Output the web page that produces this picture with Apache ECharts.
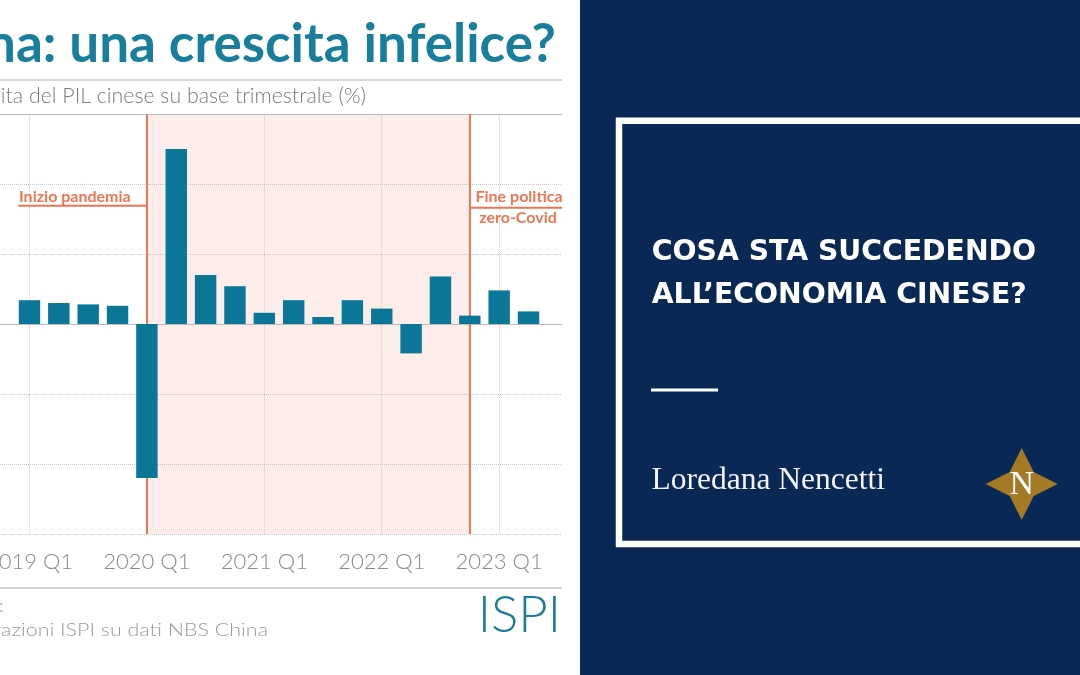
<!DOCTYPE html>
<html><head><meta charset="utf-8">
<script src="https://cdn.jsdelivr.net/npm/echarts@6/dist/echarts.min.js"></script>
<style>html,body{margin:0;padding:0;background:#fff}#c{width:1080px;height:675px}</style>
</head><body><div id="c"></div><script>
// ---- data ----
const categories = ['2019 Q1','2019 Q2','2019 Q3','2019 Q4','2020 Q1','2020 Q2','2020 Q3','2020 Q4',
  '2021 Q1','2021 Q2','2021 Q3','2021 Q4','2022 Q1','2022 Q2','2022 Q3','2022 Q4','2023 Q1','2023 Q2'];
const gdpGrowth = [1.7,1.5,1.4,1.3,-11.0,12.5,3.5,2.7,0.8,1.7,0.5,1.7,1.1,-2.1,3.4,0.6,2.4,0.9];
const yMin = -15, yMax = 15, yStep = 5;
const yearTicks = ['2019 Q1','2020 Q1','2021 Q1','2022 Q1','2023 Q1'];
const covidStart = '2020 Q1', covidEnd = '2022 Q4';
const annotStart = { cat: '2020 Q1', value: 8.45, text: 'Inizio pandemia' };
const annotEnd = { cat: '2022 Q4', value: 8.3, lines: ['Fine politica', 'zero-Covid'] };

const TEAL = '#0a7698', ORANGE = '#ef7550', NAVY = '#0a2855';
const chart = echarts.init(document.getElementById('c'), null, { renderer: 'canvas' });

function txt(text, x, y, font, fill, align, sx) {
  return { type: 'text', silent: true, z: 20, x: x, y: y, scaleX: sx || 1, style: {
    text, x: 0, y: 0, font, fill, align, textAlign: align, verticalAlign: 'middle', textVerticalAlign: 'middle' } };
}

const noLabel = { show: false };
chart.setOption({
  animation: false,
  grid: [
    { left: 0, right: 518, top: 114, bottom: 141, containLabel: false, outerBoundsMode: 'none' },
    { left: 14.8, right: 536.8, top: 114, bottom: 141, containLabel: false, outerBoundsMode: 'none' }
  ],
  xAxis: [
    { gridIndex: 0, type: 'value', show: false, min: 0, max: 1 },
    { gridIndex: 1, type: 'category', data: categories,
      axisLine: { show: false }, axisTick: { show: false }, splitLine: { show: false },
      axisLabel: { interval: 3, margin: 17, color: '#8a8a8a', fontFamily: 'Lato', fontWeight: 300, fontSize: 22 } }
  ],
  yAxis: [
    { gridIndex: 0, type: 'value', min: yMin, max: yMax, interval: yStep,
      axisLabel: noLabel, axisLine: { show: false }, axisTick: { show: false },
      splitLine: { lineStyle: { type: 'dotted', color: '#c8c8c8', width: 1 } } },
    { gridIndex: 1, type: 'value', min: yMin, max: yMax, interval: yStep, show: false }
  ],
  series: [
    { type: 'line', xAxisIndex: 0, yAxisIndex: 0, data: [],
      markLine: { z: 1.3, silent: true, symbol: 'none', label: noLabel,
        lineStyle: { type: 'solid', color: '#bdbdbd', width: 1 },
        data: [{ yAxis: yMax }, { yAxis: 0 }] } },
    { type: 'line', xAxisIndex: 1, yAxisIndex: 1, data: [],
      markArea: { z: 1, silent: true, itemStyle: { color: 'rgba(235,110,90,0.13)' },
        data: [[{ xAxis: covidStart }, { xAxis: covidEnd }]] },
      markLine: { z: 1.2, silent: true, symbol: 'none', label: noLabel,
        lineStyle: { type: 'dotted', color: '#cccccc', width: 1 },
        data: yearTicks.map(c => ({ xAxis: c })) } },
    { type: 'line', xAxisIndex: 1, yAxisIndex: 1, data: [],
      markLine: { z: 1.5, silent: true, symbol: 'none', label: noLabel,
        lineStyle: { type: 'solid', color: ORANGE, width: 2 },
        data: [{ xAxis: covidStart }, { xAxis: covidEnd }] } },
    { type: 'bar', xAxisIndex: 1, yAxisIndex: 1, data: gdpGrowth, barWidth: '73%', z: 3,
      itemStyle: { color: TEAL } }
  ]
});

// annotation positions from the chart's own scales
const pS = chart.convertToPixel({ gridIndex: 1 }, [annotStart.cat, annotStart.value]);
const pE = chart.convertToPixel({ gridIndex: 1 }, [annotEnd.cat, annotEnd.value]);

// star logo
const cx = 1021.7, cy = 484, ro = 36, ri = 17;
const star = [];
for (let k = 0; k < 8; k++) {
  const a = -Math.PI / 2 + k * Math.PI / 4, r = k % 2 ? ri : ro;
  star.push([cx + r * Math.cos(a), cy + r * Math.sin(a)]);
}

chart.setOption({
  graphic: [
    { type: 'rect', silent: true, z: 10, shape: { x: 580, y: 0, width: 500, height: 675 }, style: { fill: NAVY } },
    { type: 'rect', silent: true, z: 11, shape: { x: 619, y: 120.7, width: 600, height: 423.3 },
      style: { fill: 'none', stroke: '#ffffff', lineWidth: 6.5 } },
    { type: 'line', silent: true, z: 11, shape: { x1: 0, y1: 80, x2: 562, y2: 80 }, style: { stroke: '#c9c9c9', lineWidth: 1.5 } },
    { type: 'line', silent: true, z: 11, shape: { x1: 0, y1: 588, x2: 562, y2: 588 }, style: { stroke: '#c9c9c9', lineWidth: 1.5 } },
    txt('Cina: una crescita infelice?', 556, 45, 'bold 53px Lato', '#177e9d', 'right'),
    txt('Crescita del PIL cinese su base trimestrale (%)', 366, 96, '300 21px Lato', '#7a7a7a', 'right', 1.015),
    txt('Fonte:', 4, 606.4, '300 18px Lato', '#9a9a9a', 'right', 1.2),
    txt('Elaborazioni ISPI su dati NBS China', 268, 630.1, '300 18px Lato', '#9a9a9a', 'right', 1.19),
    txt('ISPI', 561, 615.3, '300 51px Lato', '#1a7c9b', 'right'),
    // annotations
    { type: 'line', silent: true, z: 12, shape: { x1: 18.3, y1: pS[1], x2: pS[0], y2: pS[1] }, style: { stroke: ORANGE, lineWidth: 2 } },
    txt(annotStart.text, 19, pS[1] - 9.2, 'bold 16px Lato', ORANGE, 'left'),
    { type: 'line', silent: true, z: 12, shape: { x1: pE[0], y1: pE[1], x2: 562, y2: pE[1] }, style: { stroke: ORANGE, lineWidth: 2 } },
    txt(annotEnd.lines[0], 519, pE[1] - 11.2, 'bold 16px Lato', ORANGE, 'center'),
    txt(annotEnd.lines[1], 518, pE[1] + 10.1, 'bold 16px Lato', ORANGE, 'center'),
    // right panel
    txt('COSA STA SUCCEDENDO', 651.7, 252.9, 'bold 28.3px "DejaVu Sans"', '#ffffff', 'left'),
    txt('ALL\u2019ECONOMIA CINESE?', 651.7, 295.2, 'bold 28.3px "DejaVu Sans"', '#ffffff', 'left'),
    { type: 'line', silent: true, z: 12, shape: { x1: 651, y1: 390, x2: 718, y2: 390 }, style: { stroke: '#ffffff', lineWidth: 3 } },
    txt('Loredana Nencetti', 651.5, 481.1, '31.5px "Liberation Serif"', '#f2f4f8', 'left'),
    { type: 'polygon', silent: true, z: 12, shape: { points: star }, style: { fill: '#a57a26' } },
    txt('N', 1021.7, 484.9, '34px "Liberation Serif"', '#ffffff', 'center')
  ]
});
</script></body></html>
